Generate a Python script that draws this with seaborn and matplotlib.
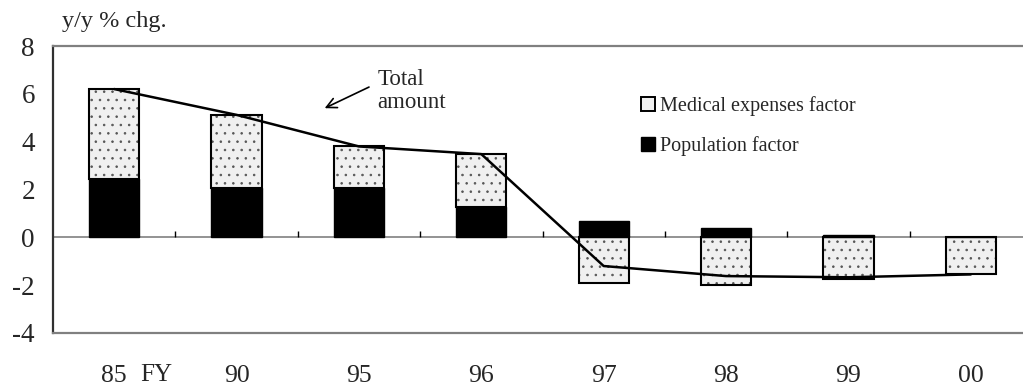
import matplotlib
matplotlib.use("Agg")
import matplotlib.pyplot as plt
import matplotlib.patches as mpatches
import seaborn as sns

# --- Data ---
years = ["85", "90", "95", "96", "97", "98", "99", "00"]
population = [2.45, 2.05, 2.08, 1.28, 0.70, 0.38, 0.08, 0.0]
medical = [3.75, 3.07, 1.72, 2.20, -1.90, -2.00, -1.75, -1.55]
total = [6.2, 5.12, 3.8, 3.48, -1.2, -1.62, -1.67, -1.55]

# --- Settings ---
sns.set_style("white")
plt.rcParams["font.family"] = ["Liberation Serif", "DejaVu Serif"]
plt.rcParams["hatch.linewidth"] = 0.6

fig = plt.figure(figsize=(10.23, 3.87), dpi=100)
ax = fig.add_axes([53 / 1023, 1 - 333 / 387, 979 / 1023, 287 / 387])

# medical bars sit on top of population where both are positive
med_bottom = [p if m > 0 else 0 for p, m in zip(population, medical)]

med_fill = "#f0f0f0"
dot_col = "#555555"
# dotted fill (hatch takes the edge colour), then a black outline on top
sns.barplot(x=years, y=medical, bottom=med_bottom, color=med_fill, edgecolor=dot_col,
            linewidth=0, hatch="..", width=0.41, saturation=1, ax=ax, zorder=2)
sns.barplot(x=years, y=medical, bottom=med_bottom, color="black", fill=False,
            linewidth=1.5, width=0.41, saturation=1, ax=ax, zorder=2)
sns.barplot(x=years, y=population, color="black", edgecolor="black",
            linewidth=1.0, width=0.41, saturation=1, ax=ax, zorder=2)
sns.lineplot(x=years, y=total, color="black", linewidth=1.8, sort=False, ax=ax, zorder=4)

# zero line with small category boundary ticks
ax.axhline(0, color="#808080", linewidth=1.2, zorder=1)
ax.vlines([i + 0.5 for i in range(len(years) - 1)], 0, 0.28, color="black", linewidth=1.0, zorder=1)

ax.set_xlim(-0.5, len(years) - 0.5)
ax.set_ylim(-4, 8)
ax.set_yticks(range(-4, 9, 2))
ax.set_yticklabels([str(v) for v in range(-4, 9, 2)], fontsize=19.5)
ax.tick_params(axis="y", direction="in", length=8, width=1.2, pad=13, color="#303030")
ax.tick_params(axis="x", length=0, pad=23, labelsize=18.5)

ax.spines["right"].set_visible(False)
ax.spines["left"].set_color("#303030")
ax.spines["left"].set_linewidth(1.6)
for s in ["top", "bottom"]:
    ax.spines[s].set_color("#808080")
    ax.spines[s].set_linewidth(1.6)

ax.set_xlabel("")
ax.set_ylabel("")

# legend
h_med = mpatches.Patch(facecolor=med_fill, edgecolor="black", linewidth=1.4,
                       label="Medical expenses factor")
h_pop = mpatches.Patch(facecolor="black", edgecolor="black", label="Population factor")
ax.legend(handles=[h_med, h_pop], loc="upper left", bbox_to_anchor=(631 / 1023, 1 - 86 / 387),
          bbox_transform=fig.transFigure, frameon=False, fontsize=14.5,
          handlelength=0.7, handleheight=0.7, handletextpad=0.25, labelspacing=1.0,
          borderpad=0)

# annotation for the line
ax.annotate("Total\namount", xy=(1.72, 5.4), xytext=(2.15, 6.12), fontsize=16.5,
            ha="left", va="center", linespacing=1.1,
            arrowprops=dict(arrowstyle="->", color="black", linewidth=1.2, shrinkA=4, shrinkB=0,
                            mutation_scale=18, relpos=(0, 0.68)))

fig.text(62 / 1023, 1 - 22 / 387, "y/y % chg.", fontsize=17.5, va="center", ha="left")
fig.text(140 / 1023, 1 - 375 / 387, "FY", fontsize=18, va="center", ha="left")

fig.savefig("out.png", dpi=100)
